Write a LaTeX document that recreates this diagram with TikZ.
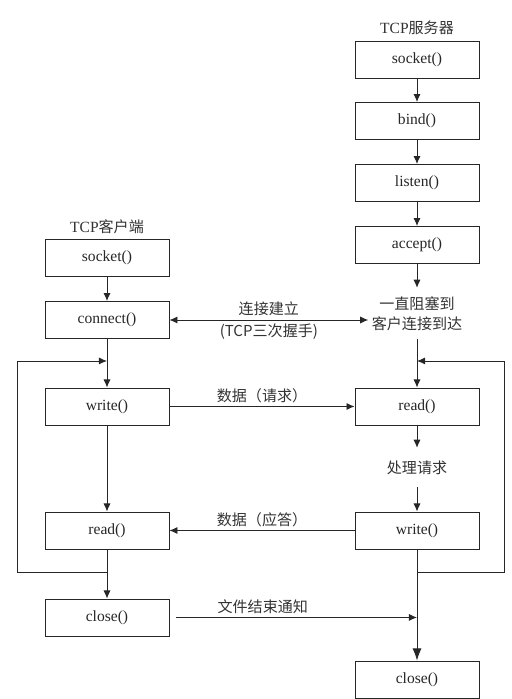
\documentclass[tikz,border=0pt]{standalone}
\usepackage{fontspec}
\setmainfont{Liberation Serif}
\newfontfamily\cjk{Noto Sans CJK SC}
\usetikzlibrary{arrows.meta}

\begin{document}
\begin{tikzpicture}[>={Latex[length=8pt,width=7pt]},
    box/.style={draw=black!85,line width=0.9pt,minimum width=4.34cm,minimum height=1.295cm,inner sep=0pt,text=black!85,font=\fontsize{15.5}{18}\selectfont},
    tag/.style={text=black!80,align=center,font=\cjk\fontsize{15}{20}\selectfont},
    flow/.style={->,draw=black!85,line width=0.9pt}]
 %   \coordinate (frame) at (17.885,24.465);
    \useasboundingbox (0,0) rectangle (17.885,24.465);

    \node[tag] (server) at (14.595,23.485) {{\rmfamily\fontsize{15.5}{18}\selectfont TCP}服务器};
    \node[box] (ssocket) at (14.595,22.383) {socket()};
    \node[box] (sbind) at (14.595,20.230) {bind()};
    \node[box] (slisten) at (14.595,18.060) {listen()};
    \node[box] (saccept) at (14.595,15.890) {accept()};
    \node[tag,minimum height=1.785cm] (swait) at (14.595,13.493) {一直阻塞到\\客户连接到达};
    \node[box] (sread) at (14.595,10.238) {read()};
    \node[tag,minimum height=1.365cm] (sdeal) at (14.595,8.103) {处理请求};
    \node[box] (swrite) at (14.595,5.898) {write()};
    \node[box] (sclose) at (14.595,0.683) {close()};

    \node[tag] (client) at (3.745,16.520) {{\rmfamily\fontsize{15.5}{18}\selectfont TCP}客户端};
    \node[box] (csocket) at (3.745,15.453) {socket()};
    \node[box] (cconnect) at (3.745,13.265) {connect()};
    \node[box] (cwrite) at (3.745,10.238) {write()};
    \node[box] (cread) at (3.745,5.898) {read()};
    \node[box] (cclose) at (3.745,2.853) {close()};

    \coordinate (cjoin) at (3.745,4.445);
    \coordinate (cleft) at (0.595,4.445);
    \coordinate (cback) at (3.745,11.830);
    \coordinate (sjoin) at (14.595,4.445);
    \coordinate (sright) at (17.640,4.445);
    \coordinate (sback) at (14.595,11.830);
    \coordinate (cstart) at (6.160,2.853);

    \draw[flow] (ssocket) -- (sbind);
    \draw[flow] (sbind) -- (slisten);
    \draw[flow] (slisten) -- (saccept);
    \draw[flow] (saccept) -- (swait);
    \draw[flow] (swait) -- (sread);
    \draw[flow] (sread) -- (sdeal);
    \draw[flow] (sdeal) -- (swrite);
    \draw[flow,-{Latex[length=12pt,width=9pt]}] (swrite) -- (sclose);
    \draw[flow] (sjoin) -- (sright) |- (sback);

    \draw[flow] (csocket) -- (cconnect);
    \draw[flow] (cconnect) -- (cwrite);
    \draw[flow] (cwrite) -- (cread);
    \draw[flow] (cread) -- (cclose);
    \draw[flow] (cjoin) -- (cleft) |- (cback);

    \draw[flow,<->] (cconnect) -- (cconnect -| swait.west)
        node[tag,midway,above] {连接建立} node[tag,midway,below] {(TCP三次握手)};
    \draw[flow] (cwrite) -- (sread) node[tag,midway,above] {数据（请求）};
    \draw[flow] (swrite) -- (cread) node[tag,midway,above] {数据（应答）};
    \draw[flow] (cstart) -- (cstart -| sclose) node[tag,pos=0.36,above] {文件结束通知};

\end{tikzpicture}
\end{document}
